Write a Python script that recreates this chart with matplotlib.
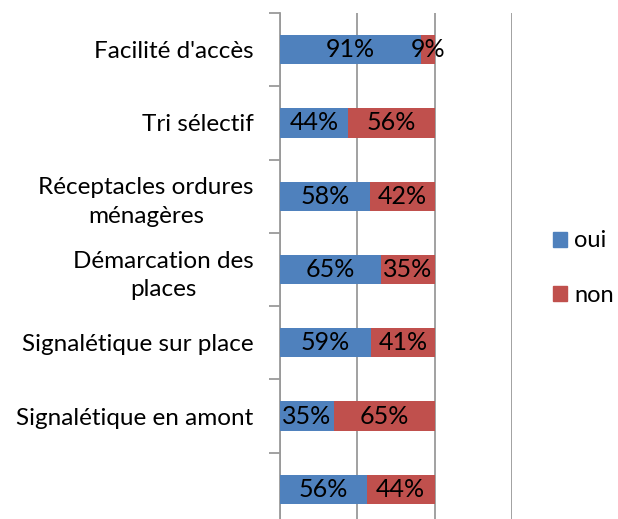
import matplotlib
matplotlib.use("Agg")
import matplotlib.pyplot as plt
from matplotlib.patches import Patch

categories = [
    "Facilité d'accès",
    "Tri sélectif",
    "Réceptacles ordures\nménagères",
    "Démarcation des\nplaces",
    "Signalétique sur place",
    "Signalétique en amont",
    "",
]
oui = [91, 44, 58, 65, 59, 35, 56]
non = [9, 56, 42, 35, 41, 65, 44]
series_names = ["oui", "non"]

BLUE = "#4F81BD"
RED = "#C0504D"
GRID = "#9a9a9a"
FONT = ["Lato", "DejaVu Sans"]

plt.rcParams["font.family"] = FONT

fig = plt.figure(figsize=(6.18, 5.19), dpi=100)
ax = fig.add_axes([280 / 618, -7 / 519, 232 / 618, 513 / 519])

y = list(range(len(categories)))
b1 = ax.barh(y, oui, height=0.4, color=BLUE, zorder=3)
b2 = ax.barh(y, non, left=oui, height=0.4, color=RED, zorder=3)

ax.bar_label(b1, labels=[f"{v}%" for v in oui], label_type="center",
             fontsize=18, color="black", zorder=4)
ax.bar_label(b2, labels=[f"{v}%" for v in non], label_type="center",
             fontsize=18, color="black", zorder=4)

ax.set_xlim(0, 150)
ax.set_ylim(len(categories) - 0.5, -0.5)
ax.set_xticks([0, 50, 100, 150])
ax.xaxis.grid(True, color=GRID, linewidth=1.3, zorder=0)
ax.tick_params(axis="x", length=0, labelbottom=False)

ax.set_yticks(y)
ax.set_yticklabels(categories, fontsize=17.5)
for lab in ax.get_yticklabels():
    lab.set_multialignment("center")
    lab.set_linespacing(1.45)
ax.set_yticks([i - 0.5 for i in range(len(categories) + 1)], minor=True)
ax.tick_params(axis="y", which="major", length=0, pad=19)
ax.tick_params(axis="y", which="minor", length=8, width=1.3, color=GRID)

for side in ["top", "right", "bottom"]:
    ax.spines[side].set_visible(False)
ax.spines["left"].set_color(GRID)
ax.spines["left"].set_linewidth(1.3)

handles = [Patch(color=BLUE), Patch(color=RED)]
fig.legend(handles, series_names, loc="center left",
           bbox_to_anchor=(553 / 618, 1 - 268 / 519), frameon=False,
           fontsize=17, handlelength=0.6, handleheight=0.6,
           handletextpad=0.3, labelspacing=1.4, borderpad=0,
           borderaxespad=0)

fig.savefig("out.png", dpi=100)
